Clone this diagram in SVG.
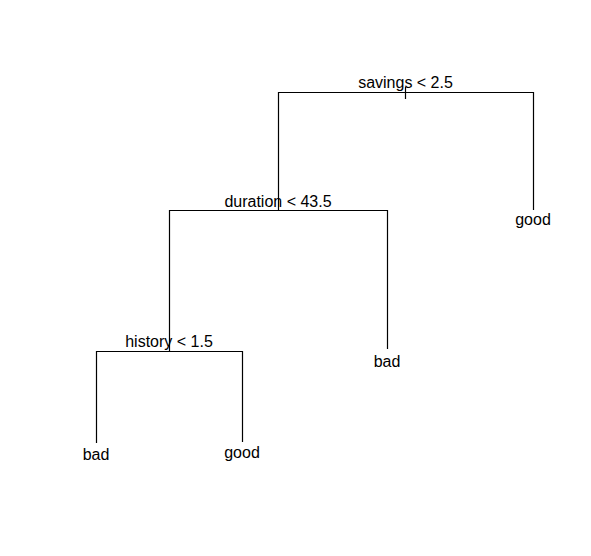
<svg xmlns="http://www.w3.org/2000/svg" width="591" height="556" viewBox="0 0 591 556">
<style>
.e{fill:none;stroke:#000;stroke-width:1.2}
text{font-family:"Liberation Sans",Arial,sans-serif;font-size:16px;text-anchor:middle;fill:#000}
</style>
<rect width="591" height="556" fill="#fff"/>
<g id="connectors">
<path class="e" d="M405.5,87V99"/>
<path class="e" d="M278.5,210V92.5H533.5V210"/>
<path class="e" d="M169.5,351V210.5H387.5V349"/>
<path class="e" d="M96.5,443V351.5H242.5V442"/>
</g>
<g id="n_savings"><text x="405.5" y="88">savings &lt; 2.5</text></g>
<g id="n_duration"><text x="278" y="207">duration &lt; 43.5</text></g>
<g id="n_history"><text x="169" y="347">history &lt; 1.5</text></g>
<g id="l_good1"><text x="533" y="225">good</text></g>
<g id="l_bad1"><text x="387" y="367">bad</text></g>
<g id="l_bad2"><text x="96" y="460">bad</text></g>
<g id="l_good2"><text x="242" y="458">good</text></g>
</svg>
